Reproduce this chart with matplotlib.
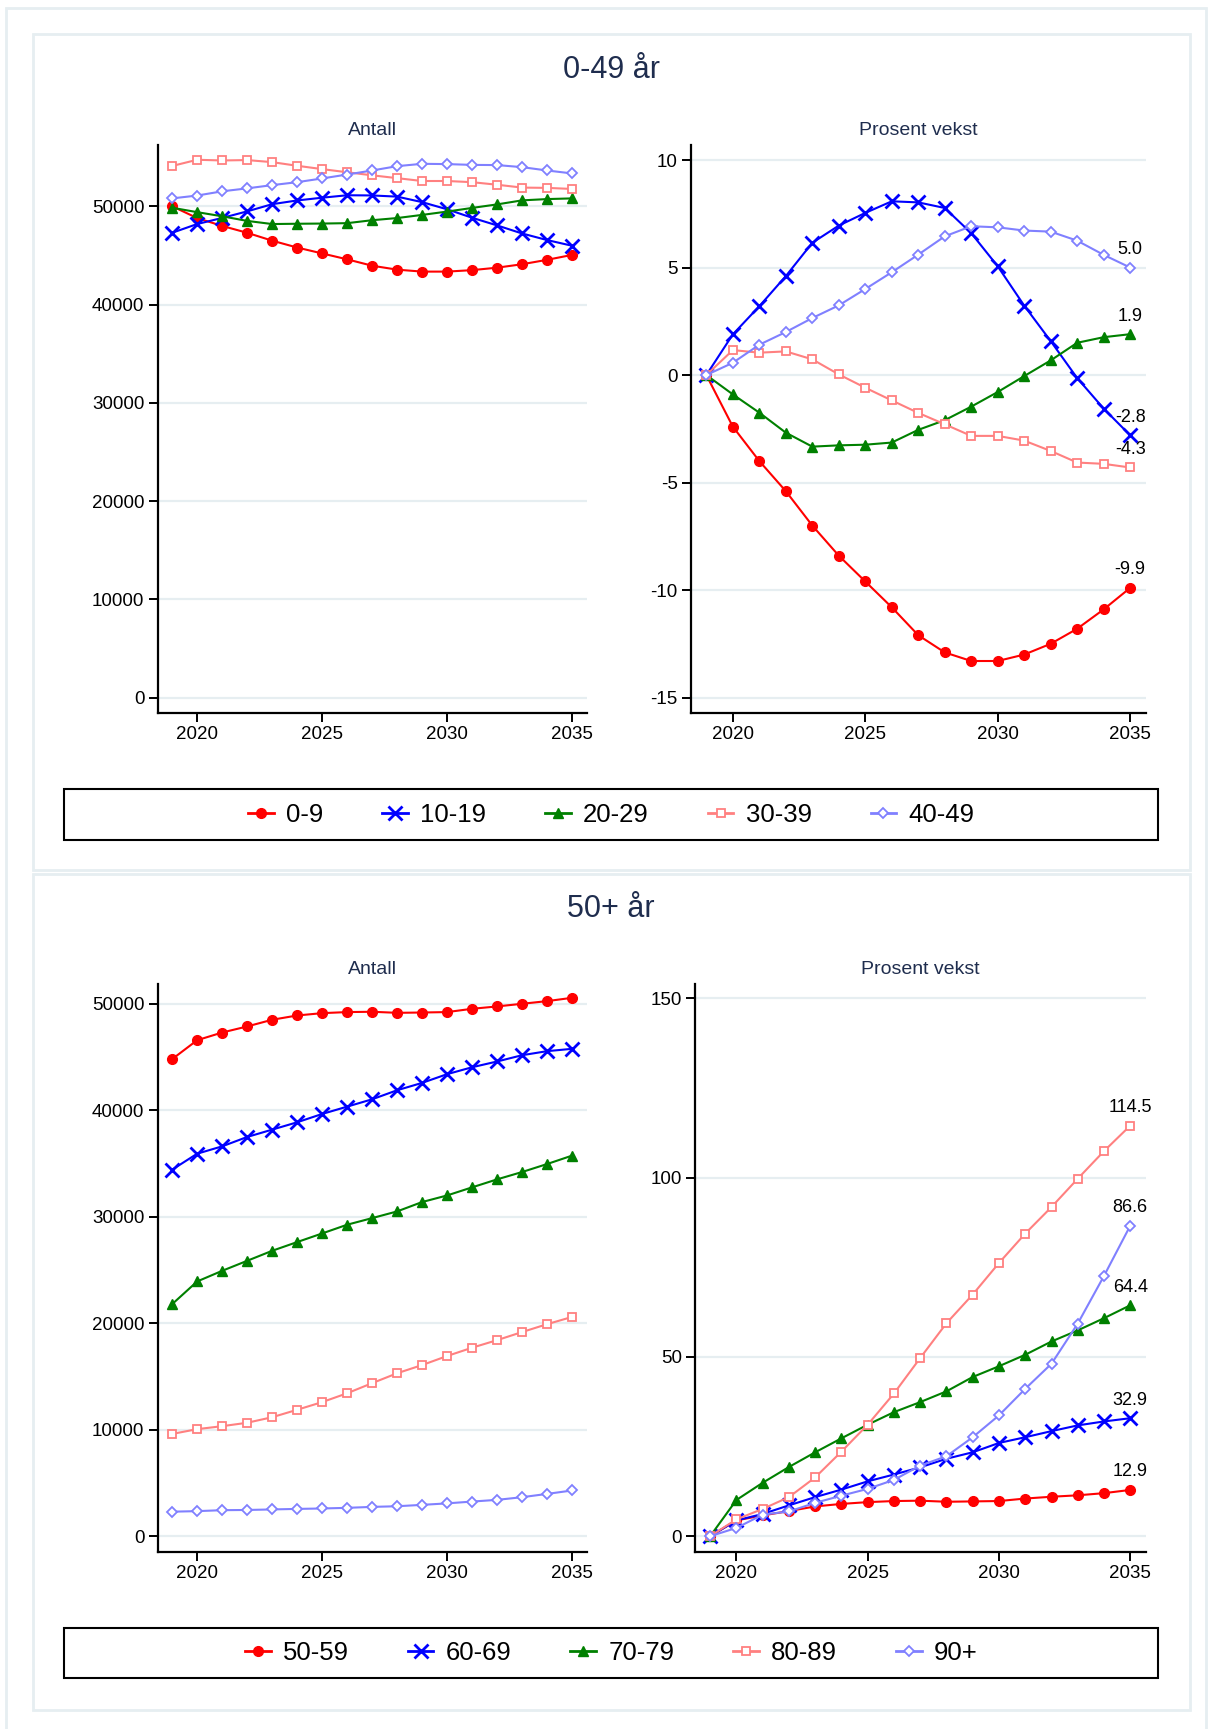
import matplotlib.pyplot as plt
from matplotlib.patches import Rectangle
from matplotlib.lines import Line2D

plt.rcParams['font.family'] = ['Liberation Sans', 'DejaVu Sans']
plt.rcParams['axes.unicode_minus'] = False

years = list(range(2019, 2036))

# 0-49 aar
young_groups = ['0-9', '10-19', '20-29', '30-39', '40-49']
young_count = [
    [50000, 48800, 48000, 47300, 46500, 45800, 45200, 44600, 43950, 43550, 43350, 43350, 43500, 43750, 44100, 44550, 45050],
    [47300, 48190, 48810, 49480, 50210, 50590, 50870, 51120, 51100, 50980, 50420, 49690, 48830, 48050, 47230, 46560, 45980],
    [49850, 49400, 48980, 48510, 48190, 48220, 48240, 48280, 48580, 48800, 49120, 49460, 49830, 50190, 50600, 50730, 50800],
    [54100, 54730, 54660, 54700, 54490, 54120, 53780, 53460, 53150, 52860, 52570, 52570, 52450, 52190, 51900, 51870, 51760],
    [50800, 51090, 51520, 51820, 52150, 52450, 52830, 53230, 53640, 54080, 54320, 54290, 54210, 54190, 53980, 53640, 53340],
]
young_pct = [
    [0, -2.4, -4.0, -5.4, -7.0, -8.4, -9.6, -10.8, -12.1, -12.9, -13.3, -13.3, -13.0, -12.5, -11.8, -10.9, -9.9],
    [0, 1.89, 3.2, 4.6, 6.15, 6.95, 7.54, 8.08, 8.03, 7.77, 6.6, 5.06, 3.23, 1.58, -0.14, -1.56, -2.8],
    [0, -0.9, -1.75, -2.68, -3.33, -3.27, -3.24, -3.14, -2.55, -2.1, -1.47, -0.79, -0.05, 0.68, 1.5, 1.76, 1.9],
    [0, 1.16, 1.04, 1.1, 0.73, 0.03, -0.59, -1.18, -1.76, -2.29, -2.83, -2.83, -3.05, -3.53, -4.07, -4.13, -4.3],
    [0, 0.57, 1.41, 2.0, 2.65, 3.24, 4.0, 4.78, 5.6, 6.45, 6.92, 6.87, 6.72, 6.67, 6.25, 5.59, 5.0],
]

# 50+ aar
old_groups = ['50-59', '60-69', '70-79', '80-89', '90+']
old_count = [
    [44800, 46580, 47300, 47870, 48500, 48900, 49120, 49220, 49250, 49150, 49180, 49220, 49530, 49750, 50000, 50250, 50560],
    [34420, 35920, 36610, 37490, 38180, 38870, 39650, 40340, 41030, 41880, 42570, 43390, 44040, 44580, 45170, 45550, 45770],
    [21790, 23920, 24920, 25860, 26800, 27620, 28430, 29250, 29870, 30500, 31380, 32000, 32760, 33510, 34200, 34950, 35740],
    [9600, 10050, 10330, 10650, 11170, 11870, 12590, 13420, 14370, 15300, 16070, 16920, 17700, 18410, 19170, 19910, 20590],
    [2300, 2350, 2440, 2460, 2510, 2560, 2600, 2660, 2750, 2810, 2940, 3080, 3250, 3410, 3660, 3970, 4290],
]
old_pct = [
    [0, 4.4, 5.8, 7.0, 8.3, 9.0, 9.5, 9.8, 9.9, 9.6, 9.7, 9.8, 10.5, 11.0, 11.4, 12.0, 12.9],
    [0, 4.4, 6.2, 8.6, 10.9, 13.0, 15.3, 17.2, 19.2, 21.6, 23.4, 26.0, 27.6, 29.3, 30.9, 32.0, 32.9],
    [0, 10.1, 14.9, 19.3, 23.4, 27.3, 31.1, 34.6, 37.4, 40.4, 44.4, 47.4, 50.6, 54.3, 57.4, 60.8, 64.4],
    [0, 4.7, 7.6, 10.9, 16.4, 23.6, 31.1, 39.8, 49.7, 59.4, 67.4, 76.2, 84.4, 91.8, 99.7, 107.4, 114.5],
    [0, 2.3, 6.0, 6.9, 9.3, 11.3, 13.2, 15.7, 19.7, 22.3, 27.6, 33.7, 41.1, 48.1, 59.3, 72.6, 86.6],
]

styles = [
    dict(color='#ff0000', marker='o', mfc='#ff0000', ms=7, mew=1, lw=1.5),
    dict(color='#0000ff', marker='x', mfc='#0000ff', ms=10, mew=2, lw=1.5),
    dict(color='#008000', marker='^', mfc='#008000', ms=7.5, mew=1, lw=1.5),
    dict(color='#ff8080', marker='s', mfc='white', ms=5.5, mew=1.3, lw=1.5),
    dict(color='#8080ff', marker='D', mfc='white', ms=5.5, mew=1.3, lw=1.5),
]

navy = '#1f2d4e'
gridc = '#e6eef1'


def style_axes(ax, yticks, ylim, title):
    ax.set_xlim(2018.42, 2035.6)
    ax.set_ylim(*ylim)
    ax.set_xticks([2020, 2025, 2030, 2035])
    ax.set_yticks(yticks)
    ax.spines['top'].set_visible(False)
    ax.spines['right'].set_visible(False)
    ax.spines['left'].set_linewidth(1.6)
    ax.spines['bottom'].set_linewidth(1.6)
    ax.tick_params(length=6.5, width=1.4, labelsize=13.5, pad=3)
    ax.yaxis.grid(True, color=gridc, lw=1.6)
    ax.set_axisbelow(True)
    ax.set_title(title, fontsize=14, color=navy, pad=7)


def draw(ax, data, label_end):
    for vals, st in zip(data, styles):
        ax.plot(years, vals, color=st['color'], marker=st['marker'], mfc=st['mfc'],
                mec=st['color'], ms=st['ms'], mew=st['mew'], lw=st['lw'], clip_on=False)
        if label_end:
            ax.annotate(f"{vals[-1]:.1f}", (years[-1], vals[-1]), xytext=(0, 13),
                        textcoords='offset points', ha='center', va='center', fontsize=13)


fig = plt.figure(figsize=(12.08, 17.29), dpi=100)

# panel frames
fig.patches.append(Rectangle((0.005, -0.01), 0.993, 1.0054, transform=fig.transFigure,
                             fill=False, ec=gridc, lw=2))
for y0 in (0.4968, 0.011):
    fig.patches.append(Rectangle((0.0273, y0), 0.9578, 0.4835, transform=fig.transFigure,
                                 fill=False, ec=gridc, lw=2))

ax1 = fig.add_axes([0.1305, 0.5876, 0.3555, 0.3288])
ax2 = fig.add_axes([0.572, 0.5876, 0.3767, 0.3288])
ax3 = fig.add_axes([0.1305, 0.1026, 0.3555, 0.3283])
ax4 = fig.add_axes([0.5753, 0.1026, 0.3734, 0.3283])

style_axes(ax1, range(0, 50001, 10000), (-1570, 56280), 'Antall')
style_axes(ax2, [-15, -10, -5, 0, 5, 10], (-15.72, 10.72), 'Prosent vekst')
style_axes(ax3, range(0, 50001, 10000), (-1450, 51860), 'Antall')
style_axes(ax4, [0, 50, 100, 150], (-4.3, 154), 'Prosent vekst')

draw(ax1, young_count, False)
draw(ax2, young_pct, True)
draw(ax3, old_count, False)
draw(ax4, old_pct, True)

fig.text(0.506, 0.9595, '0-49 år', ha='center', va='center', fontsize=22, color=navy)
fig.text(0.506, 0.4745, '50+ år', ha='center', va='center', fontsize=22, color=navy)

# legends
for groups, ybox, hbox, yc in [(young_groups, 0.5142, 0.0295, 0.5289),
                               (old_groups, 0.0295, 0.0289, 0.044)]:
    fig.patches.append(Rectangle((0.053, ybox), 0.9056, hbox, transform=fig.transFigure,
                                 fill=False, ec='black', lw=1.5))
    handles = [Line2D([], [], color=st['color'], marker=st['marker'], mfc=st['mfc'],
                      mec=st['color'], ms=st['ms'], mew=st['mew'], lw=2) for st in styles]
    fig.legend(handles, groups, loc='center', bbox_to_anchor=(0.506, yc), ncol=5,
               frameon=False, fontsize=18.5, handlelength=1.0, handletextpad=0.47,
               columnspacing=2.3)

fig.savefig('out.png', dpi=100, facecolor='white')
